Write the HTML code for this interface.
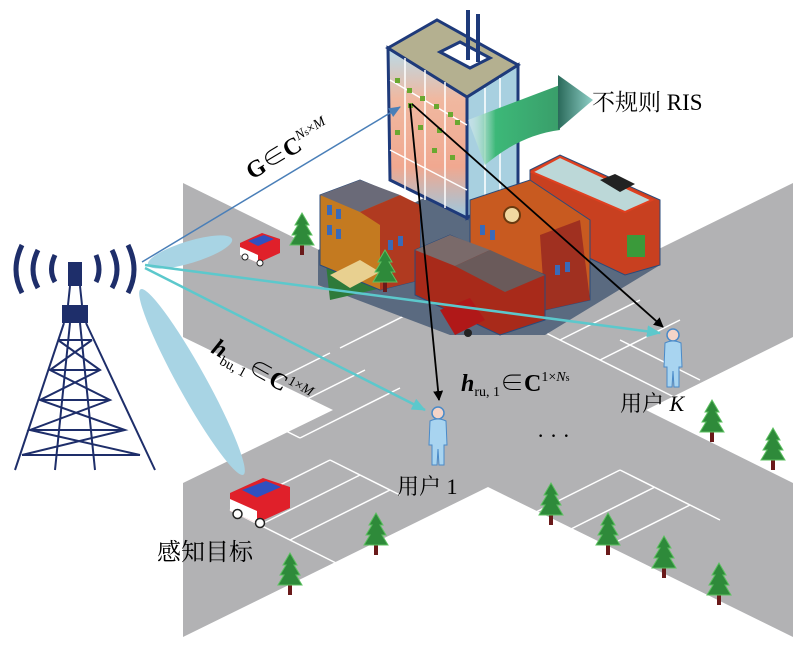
<!DOCTYPE html>
<html><head><meta charset="utf-8"><style>
body{margin:0;background:#fff}
svg{display:block}
text{font-family:"Liberation Serif","Noto Serif CJK SC",serif}
</style></head><body>
<svg width="800" height="647" viewBox="0 0 800 647" xmlns="http://www.w3.org/2000/svg">
<defs>
<marker id="ab" markerWidth="10" markerHeight="10" refX="9" refY="5" orient="auto" markerUnits="userSpaceOnUse"><path d="M0,0 L10,5 L0,10 z" fill="#000"/></marker>
<marker id="ac" markerWidth="14" markerHeight="12" refX="13" refY="6" orient="auto" markerUnits="userSpaceOnUse"><path d="M0,0 L14,6 L0,12 z" fill="#5cc8cc"/></marker>
<marker id="abl" markerWidth="12" markerHeight="10" refX="11" refY="5" orient="auto" markerUnits="userSpaceOnUse"><path d="M0,0 L12,5 L0,10 z" fill="#4a7fb8"/></marker>
<linearGradient id="ga" x1="0" y1="0" x2="1" y2="0"><stop offset="0" stop-color="#fff" stop-opacity="0.3"/><stop offset="0.3" stop-color="#3cb878"/><stop offset="1" stop-color="#3a9e6a"/></linearGradient>
<linearGradient id="gh" x1="0" y1="0" x2="1" y2="0"><stop offset="0" stop-color="#2a6a5a"/><stop offset="1" stop-color="#8fd0c8"/></linearGradient>
<linearGradient id="gt" x1="0" y1="0" x2="0" y2="1"><stop offset="0" stop-color="#b8dcea"/><stop offset="0.3" stop-color="#f0b8a0"/><stop offset="0.7" stop-color="#f0a890"/><stop offset="1" stop-color="#9cc8e0"/></linearGradient>
<g id="tree"><rect x="-2" y="0" width="4" height="10" fill="#6a1a1a"/><path d="M0,-32 L7,-20 L4,-20 L10,-10 L6,-10 L12,0 L-12,0 L-6,-10 L-10,-10 L-4,-20 L-7,-20 z" fill="#2e8a3a" stroke="#5cc060" stroke-width="1"/></g>
<g id="user"><circle cx="0" cy="0" r="6" fill="#f4d4c8" stroke="#4a8ac8" stroke-width="1.5"/><path d="M-8,8 Q0,4 8,8 L9,32 L6,32 L6,52 L1,52 L0,36 L-1,52 L-6,52 L-6,32 L-9,32 z" fill="#a8d4f0" stroke="#4a8ac8" stroke-width="1"/></g>
<g id="car"><path d="M0,10 L22,0 L40,6 L40,20 L18,30 L0,22 z" fill="#e0202a"/><path d="M8,8 L24,2 L34,6 L18,13 z" fill="#3050c0"/><path d="M0,14 L18,22 L18,30 L0,22z" fill="#fff"/><circle cx="5" cy="24" r="3" fill="#fff" stroke="#222"/><circle cx="20" cy="30" r="3" fill="#fff" stroke="#222"/></g>
</defs>
<!-- road -->
<polygon points="183,183 488,333 793,183 793,337 646,410 793,483 793,637 488,487 183,637 183,483 333,410 183,337" fill="#b2b2b4"/>
<g stroke="#fff" stroke-width="1.5" fill="none">
<path d="M230,403 L330,353 M265,420 L365,370 M300,438 L400,388 M230,403 L300,438"/>
<path d="M340,348 L420,308 M330,460 L400,495 M230,510 L330,460 M260,525 L360,475 M290,540 L390,490 M230,510 L350,570"/>
<path d="M520,520 L620,470 M555,537 L655,487 M590,555 L690,505 M620,470 L720,520 M520,520 L600,560"/>
<path d="M520,320 L600,280 M560,340 L640,300 M600,360 L680,320 M520,320 L680,400 M620,340 L700,380"/>
</g>
<!-- buildings base -->
<polygon points="318,250 430,195 660,215 660,265 545,335 450,335 318,285" fill="#5a6a80"/>
<polygon points="325,255 330,300 395,285 415,250" fill="#2e7a3a"/>
<!-- school left -->
<polygon points="320,195 360,180 420,205 420,280 380,290 320,265" fill="#c47a20" stroke="#2a4a7a"/>
<polygon points="320,195 360,180 400,195 360,212" fill="#6a6a78"/>
<polygon points="360,212 400,195 420,205 420,280 380,290 380,225" fill="#b03a20"/>
<g fill="#3a6ab8"><rect x="327" y="205" width="5" height="10"/><rect x="336" y="209" width="5" height="10"/><rect x="327" y="225" width="5" height="10"/><rect x="336" y="229" width="5" height="10"/><rect x="388" y="240" width="5" height="10"/><rect x="398" y="236" width="5" height="10"/></g>
<polygon points="330,275 360,260 380,272 350,288" fill="#e8d090"/>
<!-- tower -->
<polygon points="388,48 467,97 467,218 390,180" fill="url(#gt)" stroke="#1e3a7a" stroke-width="3"/>
<polygon points="467,97 518,65 518,185 467,218" fill="#a8d0e0" stroke="#1e3a7a" stroke-width="3"/>
<polygon points="388,48 437,20 518,65 467,97" fill="#b4b090" stroke="#1e3a7a" stroke-width="3"/>
<polygon points="440,52 460,42 490,58 470,68" fill="#fff" stroke="#1e3a7a" stroke-width="3"/>
<path d="M468,60 L468,10 M478,62 L478,14" stroke="#1e3a7a" stroke-width="4"/>
<g stroke="#fff" stroke-width="1.5"><path d="M390,80 L467,125 M390,150 L467,190 M405,58 L405,190 M425,70 L425,200 M445,82 L445,208 M485,88 L485,210 M500,78 L500,195"/></g>
<g fill="#6aa830"><rect x="395" y="78" width="5" height="5"/><rect x="407" y="88" width="5" height="5"/><rect x="420" y="96" width="5" height="5"/><rect x="434" y="104" width="5" height="5"/><rect x="448" y="112" width="5" height="5"/><rect x="408" y="103" width="5" height="5"/><rect x="418" y="125" width="5" height="5"/><rect x="437" y="128" width="5" height="5"/><rect x="395" y="130" width="5" height="5"/><rect x="432" y="148" width="5" height="5"/><rect x="450" y="155" width="5" height="5"/><rect x="455" y="120" width="5" height="5"/></g>
<!-- green arrow -->
<path d="M468,120 Q520,100 560,85 L560,130 Q520,135 485,165 z" fill="url(#ga)"/>
<polygon points="558,75 593,100 558,130" fill="url(#gh)"/>
<text x="592" y="110" font-size="23">不规则 RIS</text>
<!-- right buildings -->
<polygon points="530,170 560,155 660,200 660,265 625,275 530,230" fill="#c84020" stroke="#2a4a7a"/>
<polygon points="532,172 560,157 652,200 625,212" fill="#bcd8d8" stroke="#e04020" stroke-width="2"/>
<polygon points="600,180 615,174 635,184 620,192" fill="#222"/>
<rect x="627" y="235" width="18" height="22" fill="#3a9a3a"/>
<polygon points="470,200 530,180 590,220 590,300 545,310 470,270" fill="#c85a20" stroke="#2a4a7a"/>
<circle cx="512" cy="215" r="8" fill="#f0d8a0" stroke="#6a3a10" stroke-width="2"/>
<polygon points="540,235 580,220 590,300 545,310" fill="#a03020"/>
<g fill="#3a6ab8"><rect x="480" y="225" width="5" height="10"/><rect x="490" y="230" width="5" height="10"/><rect x="555" y="265" width="5" height="10"/><rect x="565" y="262" width="5" height="10"/></g>
<!-- fire station -->
<polygon points="415,250 450,235 545,275 545,320 500,335 415,295" fill="#a82a1a" stroke="#2a4a7a"/>
<polygon points="415,250 450,235 490,250 455,266" fill="#7a6a6a"/>
<polygon points="455,266 490,250 545,275 505,292" fill="#6a5a5a"/>
<polygon points="440,310 470,298 485,320 455,335" fill="#b01818"/>
<circle cx="468" cy="333" r="4" fill="#222"/>
<!-- trees -->
<use href="#tree" x="302" y="245"/><use href="#tree" x="385" y="282"/><use href="#tree" x="376" y="545"/><use href="#tree" x="290" y="585"/><use href="#tree" x="551" y="515"/><use href="#tree" x="608" y="545"/><use href="#tree" x="664" y="568"/><use href="#tree" x="719" y="595"/><use href="#tree" x="712" y="432"/><use href="#tree" x="773" y="460"/>
<!-- cars -->
<use href="#car" x="240" y="233"/>
<use href="#car" transform="translate(230,478) scale(1.5)"/>
<!-- base station -->
<g fill="none" stroke="#1e2e6a" stroke-width="5">
<path d="M22,245 Q10,270 22,293"/><path d="M38,250 Q28,270 38,288"/><path d="M55,255 Q48,270 55,282"/>
<path d="M128,245 Q140,270 128,293"/><path d="M112,250 Q122,270 112,288"/><path d="M96,255 Q102,270 96,282"/>
</g>
<rect x="68" y="262" width="14" height="24" fill="#1e2e6a"/>
<rect x="62" y="305" width="26" height="18" fill="#1e2e6a"/>
<g stroke="#1e2e6a" stroke-width="2" fill="none">
<path d="M70,286 L68,305 M80,286 L82,305"/>
<path d="M64,323 L15,470 M86,323 L155,470 M70,323 L55,470 M80,323 L95,470"/>
<path d="M58,340 L92,340 M50,370 L100,370 M40,400 L110,400 M30,430 L125,430 M22,455 L140,455"/>
<path d="M58,340 L100,370 L40,400 L125,430 L22,455 M92,340 L50,370 L110,400 L30,430 L140,455"/>
</g>
<!-- beams -->
<ellipse cx="190" cy="252" rx="44" ry="11" transform="rotate(-17 190 252)" fill="#a8d4e4"/>
<ellipse cx="192" cy="382" rx="106" ry="14" transform="rotate(61 192 382)" fill="#a8d4e4"/>
<!-- links -->
<line x1="142" y1="262" x2="400" y2="107" stroke="#4a7fb8" stroke-width="1.5" marker-end="url(#abl)"/>
<line x1="145" y1="265" x2="660" y2="333" stroke="#5cc8cc" stroke-width="2.5" marker-end="url(#ac)"/>
<line x1="145" y1="268" x2="425" y2="410" stroke="#5cc8cc" stroke-width="2.5" marker-end="url(#ac)"/>
<line x1="410" y1="104" x2="439" y2="400" stroke="#000" stroke-width="1.8" marker-end="url(#ab)"/>
<line x1="412" y1="104" x2="663" y2="327" stroke="#000" stroke-width="1.8" marker-end="url(#ab)"/>
<!-- users -->
<use href="#user" x="438" y="413"/><use href="#user" x="673" y="335"/>
<!-- labels -->
<text transform="translate(252,180) rotate(-31)" font-size="24" font-weight="bold">G∈C<tspan font-size="14" font-style="italic" font-weight="normal" dy="-10">N</tspan><tspan font-size="10" font-weight="normal">s</tspan><tspan font-size="14" font-weight="normal">×</tspan><tspan font-size="14" font-style="italic" font-weight="normal">M</tspan></text>
<text transform="translate(210,352) rotate(29)" font-size="24" font-weight="bold" font-style="italic">h<tspan font-size="14" font-style="normal" font-weight="normal" dy="6">bu, 1</tspan><tspan font-size="24" font-style="normal" font-weight="normal" dy="-6">∈</tspan><tspan font-style="normal">C</tspan><tspan font-size="14" font-style="normal" font-weight="normal" dy="-10">1×</tspan><tspan font-size="14" font-weight="normal">M</tspan></text>
<text x="461" y="391" font-size="24" font-weight="bold" font-style="italic">h<tspan font-size="14" font-style="normal" font-weight="normal" dy="5">ru, 1</tspan><tspan font-size="24" font-style="normal" font-weight="normal" dy="-5">∈</tspan><tspan font-style="normal">C</tspan><tspan font-size="14" font-style="normal" font-weight="normal" dy="-10">1×</tspan><tspan font-size="14" font-weight="normal">N</tspan><tspan font-size="10" font-style="normal" font-weight="normal">s</tspan></text>
<text x="397" y="494" font-size="22">用户 1</text>
<text x="620" y="411" font-size="22">用户 <tspan font-style="italic">K</tspan></text>
<text x="157" y="560" font-size="24">感知目标</text>
<text x="537" y="443" font-size="22">· · ·</text>
</svg>
</body></html>
